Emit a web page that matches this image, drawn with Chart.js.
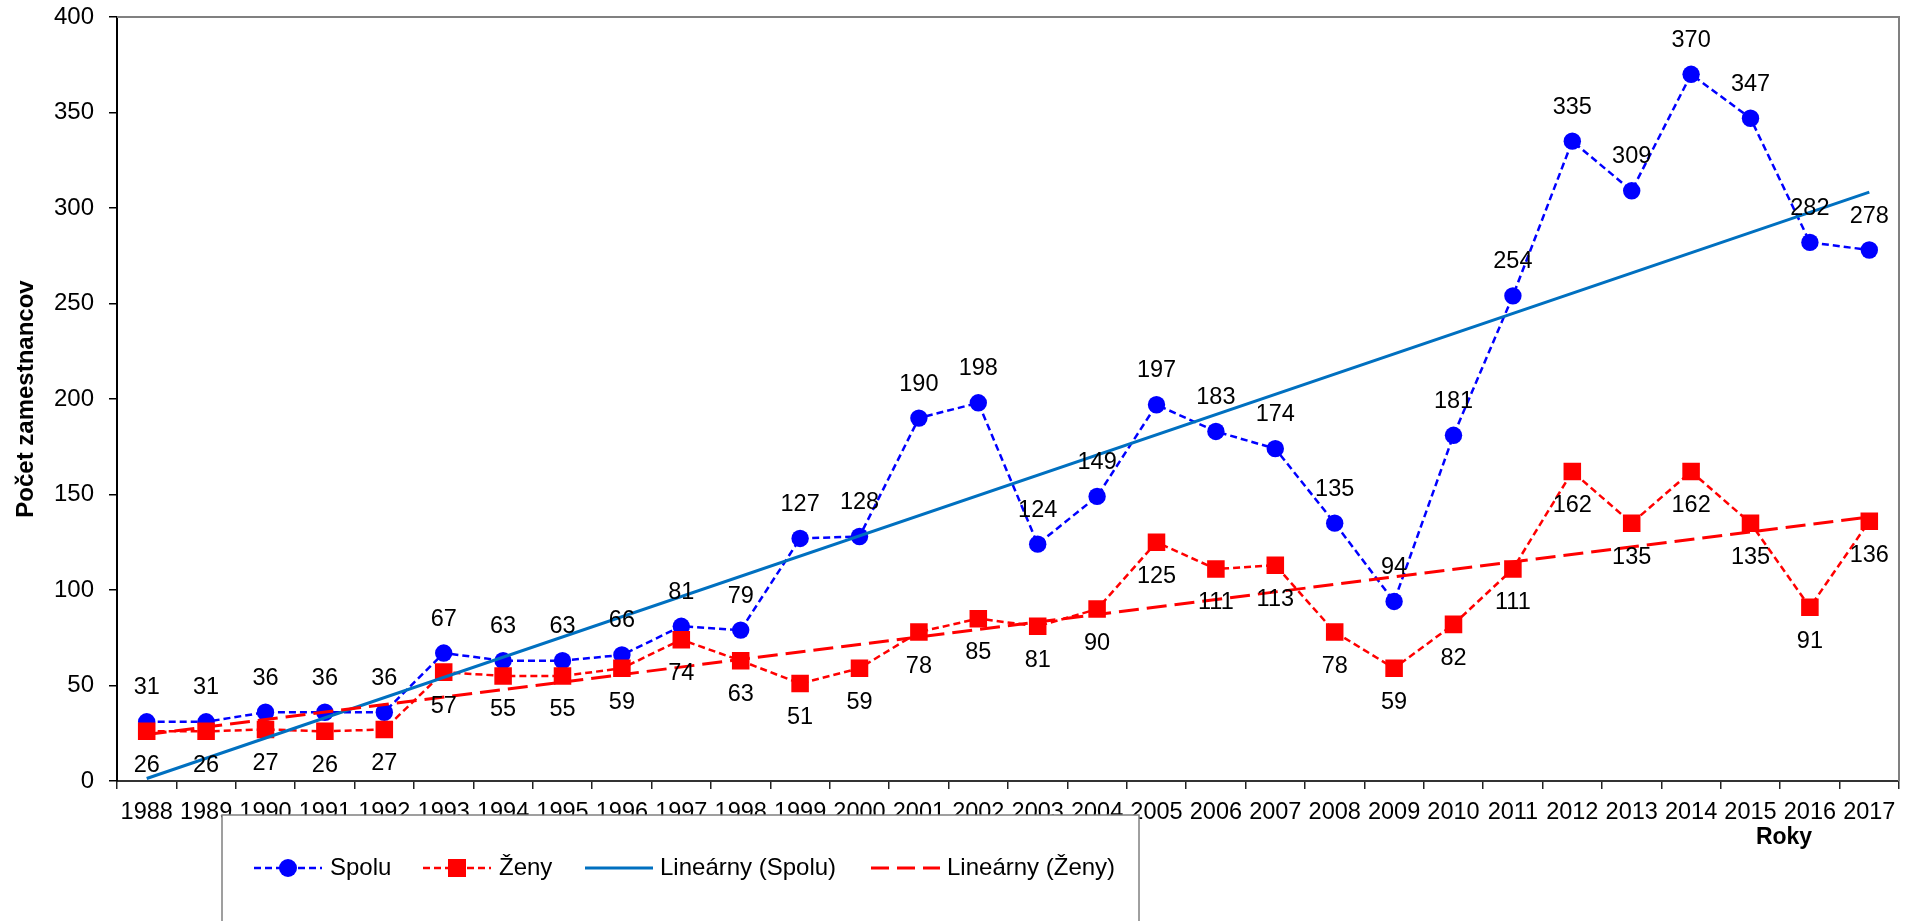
<!DOCTYPE html>
<html>
<head>
<meta charset="utf-8">
<script src="https://cdn.jsdelivr.net/npm/chart.js@4/dist/chart.umd.min.js"></script>
<style>
    html, body { margin: 0; padding: 0; background: #fff; }
    #wrap { width: 1913px; height: 921px; position: relative; }
</style>
</head>
<body>
<div id="wrap"><canvas id="zamChart"></canvas></div>
<script>
// data
const years = ['1988', '1989', '1990', '1991', '1992', '1993', '1994', '1995', '1996', '1997',
    '1998', '1999', '2000', '2001', '2002', '2003', '2004', '2005', '2006', '2007',
    '2008', '2009', '2010', '2011', '2012', '2013', '2014', '2015', '2016', '2017'];
const spolu = [31, 31, 36, 36, 36, 67, 63, 63, 66, 81, 79, 127, 128, 190, 198, 124, 149, 197, 183, 174,
    135, 94, 181, 254, 335, 309, 370, 347, 282, 278];
const zeny = [26, 26, 27, 26, 27, 57, 55, 55, 59, 74, 63, 51, 59, 78, 85, 81, 90, 125, 111, 113,
    78, 59, 82, 111, 162, 135, 162, 135, 91, 136];
// trend line ends (first and last year)
const trendSpolu = [1.3, 308.3];
const trendZeny = [24.3, 138.3];
const yTicks = [0, 50, 100, 150, 200, 250, 300, 350, 400];

const FONT = '"Liberation Sans", Arial, sans-serif';
const BLUE = '#0000FF';
const RED = '#FF0000';
const TREND_BLUE = '#0070C0';

function endPoints(vals) {
    return [{ x: years[0], y: vals[0] }, { x: years[years.length - 1], y: vals[1] }];
}

// value labels: Spolu above the point, Zeny below
const valueLabels = {
    id: 'valueLabels',
    afterDatasetsDraw(chart) {
        const ctx = chart.ctx;
        ctx.save();
        ctx.font = '23.5px ' + FONT;
        ctx.fillStyle = '#000';
        ctx.textAlign = 'center';
        ctx.textBaseline = 'middle';
        [[0, spolu, -34], [1, zeny, 34]].forEach(([idx, vals, off]) => {
            const meta = chart.getDatasetMeta(idx);
            meta.data.forEach((pt, i) => {
                ctx.fillText(String(vals[i]), pt.x, pt.y + off);
            });
        });
        ctx.restore();
    }
};

// frame, axis title and the boxed legend
const extras = {
    id: 'extras',
    afterDraw(chart) {
        const ctx = chart.ctx;
        const a = chart.chartArea;
        ctx.save();

        // top and right plot border
        ctx.strokeStyle = '#808080';
        ctx.lineWidth = 2;
        ctx.beginPath();
        ctx.moveTo(a.left, a.top);
        ctx.lineTo(a.right, a.top);
        ctx.lineTo(a.right, a.bottom);
        ctx.stroke();

        // x axis title
        ctx.font = 'bold 23px ' + FONT;
        ctx.fillStyle = '#000';
        ctx.textAlign = 'center';
        ctx.textBaseline = 'middle';
        ctx.fillText('Roky', 1784, 838);

        // legend box (covers part of the year labels, as in the original)
        const bx = 222, by = 815, bw = 917, bh = 200;
        ctx.fillStyle = '#fff';
        ctx.fillRect(bx, by, bw, bh);
        ctx.strokeStyle = '#808080';
        ctx.lineWidth = 1.5;
        ctx.strokeRect(bx, by, bw, bh);

        const ly = 868;
        const items = [
            { x0: 254, x1: 322, tx: 330, text: 'Spolu', color: BLUE, dash: [7, 4], w: 2.5, marker: 'circle' },
            { x0: 423, x1: 491, tx: 499, text: 'Ženy', color: RED, dash: [7, 4], w: 2.5, marker: 'rect' },
            { x0: 585, x1: 653, tx: 660, text: 'Lineárny (Spolu)', color: TREND_BLUE, dash: [], w: 3 },
            { x0: 871, x1: 940, tx: 947, text: 'Lineárny (Ženy)', color: RED, dash: [18, 8], w: 3 }
        ];
        items.forEach(it => {
            ctx.strokeStyle = it.color;
            ctx.lineWidth = it.w;
            ctx.setLineDash(it.dash);
            ctx.beginPath();
            ctx.moveTo(it.x0, ly);
            ctx.lineTo(it.x1, ly);
            ctx.stroke();
            ctx.setLineDash([]);
            const cx = (it.x0 + it.x1) / 2;
            ctx.fillStyle = it.color;
            if (it.marker === 'circle') {
                ctx.beginPath();
                ctx.arc(cx, ly, 9, 0, Math.PI * 2);
                ctx.fill();
            } else if (it.marker === 'rect') {
                ctx.fillRect(cx - 9, ly - 9, 18, 18);
            }
            ctx.fillStyle = '#000';
            ctx.font = '24px ' + FONT;
            ctx.textAlign = 'left';
            ctx.textBaseline = 'middle';
            ctx.fillText(it.text, it.tx, ly);
        });
        ctx.restore();
    }
};

const ctx = document.getElementById('zamChart').getContext('2d');
const zamChart = new Chart(ctx, {
    type: 'line',
    data: {
        labels: years,
        datasets: [
            {
                label: 'Spolu',
                data: spolu,
                borderColor: BLUE,
                backgroundColor: BLUE,
                borderWidth: 2.5,
                borderDash: [7, 4],
                pointStyle: 'circle',
                pointRadius: 8.7,
                pointBorderWidth: 0,
                tension: 0,
                order: 3
            },
            {
                label: 'Ženy',
                data: zeny,
                borderColor: RED,
                backgroundColor: RED,
                borderWidth: 2.5,
                borderDash: [7, 4],
                pointStyle: 'rect',
                pointRadius: 12.4,
                pointBorderWidth: 0,
                tension: 0,
                order: 2
            },
            {
                label: 'Lineárny (Spolu)',
                data: endPoints(trendSpolu),
                borderColor: TREND_BLUE,
                borderWidth: 3,
                pointRadius: 0,
                order: 1
            },
            {
                label: 'Lineárny (Ženy)',
                data: endPoints(trendZeny),
                borderColor: RED,
                borderWidth: 3,
                borderDash: [20, 8],
                pointRadius: 0,
                order: 0
            }
        ]
    },
    options: {
        responsive: true,
        maintainAspectRatio: false,
        animation: false,
        layout: { padding: { left: 0, top: 17, right: 14, bottom: 0 } },
        plugins: {
            legend: { display: false },
            tooltip: { enabled: false }
        },
        scales: {
            x: {
                offset: true,
                grid: {
                    offset: true,
                    drawOnChartArea: false,
                    drawTicks: true,
                    tickLength: 8,
                    color: '#222',
                    lineWidth: 1.5
                },
                border: { display: true, color: '#333', width: 2 },
                ticks: {
                    color: '#000',
                    font: { family: FONT, size: 23.5 },
                    padding: 9,
                    maxRotation: 0,
                    autoSkip: false
                },
                afterFit(scale) {
                    scale.height = 140;
                    scale.paddingLeft = 0;
                    scale.paddingRight = 0;
                }
            },
            y: {
                min: 0,
                max: 400,
                afterBuildTicks(scale) { scale.ticks = yTicks.map(v => ({ value: v })); },
                grid: {
                    drawOnChartArea: false,
                    drawTicks: true,
                    tickLength: 8,
                    color: '#000',
                    lineWidth: 1.5
                },
                border: { display: true, color: '#000', width: 2 },
                ticks: {
                    color: '#000',
                    font: { family: FONT, size: 24 },
                    padding: 15
                },
                title: {
                    display: true,
                    text: 'Počet zamestnancov',
                    color: '#000',
                    font: { family: FONT, size: 24, weight: 'bold' },
                    padding: { top: 12, bottom: 0 }
                },
                afterFit(scale) {
                    scale.width = 117;
                    scale.paddingTop = 0;
                    scale.paddingBottom = 0;
                }
            }
        }
    },
    plugins: [valueLabels, extras]
});
</script>
</body>
</html>
